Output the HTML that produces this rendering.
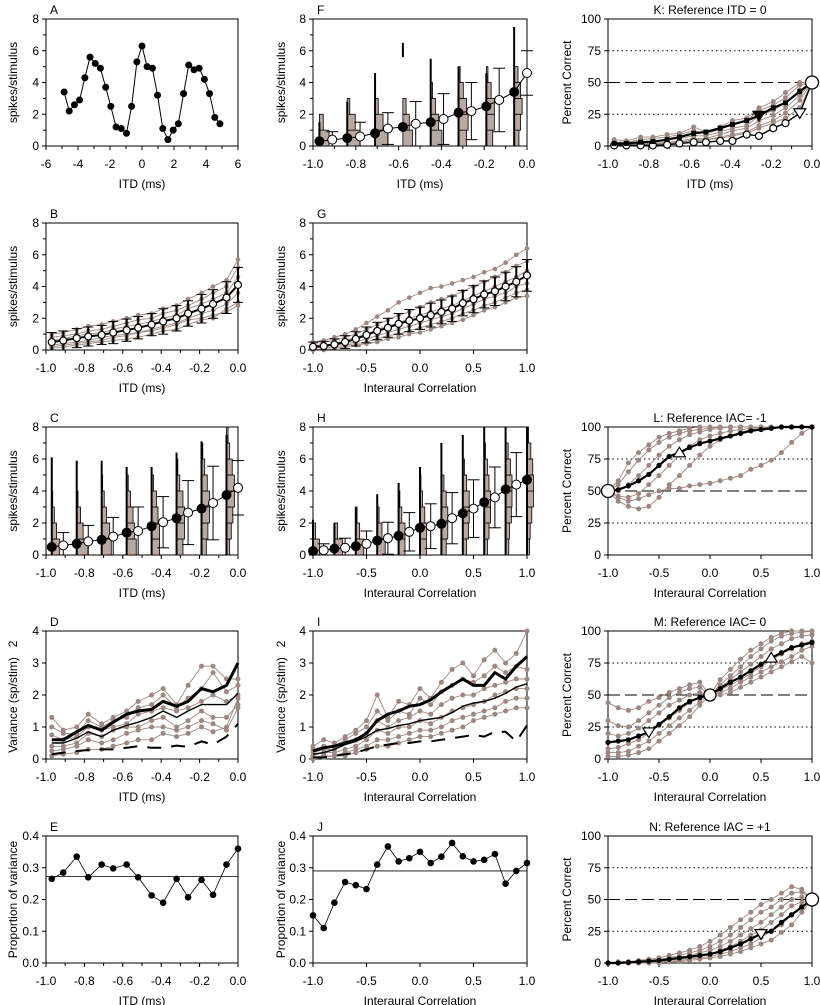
<!DOCTYPE html>
<html><head><meta charset="utf-8"><style>
html,body{margin:0;padding:0;background:#fff;}
svg{display:block;font-family:"Liberation Sans",Arial,sans-serif;}
</style></head><body>
<svg id="fig" width="820" height="1005" viewBox="0 0 820 1005" xmlns="http://www.w3.org/2000/svg"></svg>
<script>
// ---------- data ----------
const itd = [-0.97,-0.91,-0.84,-0.78,-0.71,-0.65,-0.58,-0.52,-0.45,-0.39,-0.32,-0.26,-0.19,-0.13,-0.06,0.0];
const iac = [-1,-0.9,-0.8,-0.7,-0.6,-0.5,-0.4,-0.3,-0.2,-0.1,0,0.1,0.2,0.3,0.4,0.5,0.6,0.7,0.8,0.9,1];
const aX = [-4.87,-4.55,-4.22,-3.9,-3.57,-3.25,-2.92,-2.6,-2.27,-1.95,-1.62,-1.3,-0.97,-0.65,-0.32,0,0.32,0.65,0.97,1.3,1.62,1.95,2.27,2.6,2.92,3.25,3.57,3.9,4.22,4.55,4.87];
const aY = [3.4,2.2,2.6,2.9,4.3,5.6,5.2,4.9,3.7,2.5,1.2,1.1,0.8,2.5,5.3,6.3,5.0,4.9,3.2,1.1,0.4,1.0,1.4,3.3,5.1,4.8,4.9,4.2,3.3,1.8,1.4];
const bMean = [0.5,0.6,0.75,0.85,0.95,1.1,1.25,1.4,1.6,1.8,2.0,2.3,2.6,2.9,3.3,4.1];
const bSd = [0.6,0.6,0.6,0.6,0.6,0.7,0.7,0.7,0.7,0.8,0.8,0.8,0.9,0.9,1.0,1.1];
const bGray = [
[1.0,1.1,1.3,1.5,1.6,1.8,2.0,2.2,2.3,2.6,2.8,3.2,3.6,4.0,4.4,5.7],
[0.8,0.9,1.0,1.2,1.3,1.5,1.7,1.9,2.0,2.3,2.5,2.8,3.2,3.6,4.0,5.2],
[0.3,0.4,0.5,0.6,0.8,0.9,1.0,1.1,1.3,1.5,1.7,2.0,2.3,2.5,2.9,3.6],
[0.1,0.2,0.3,0.4,0.5,0.6,0.7,0.8,1.0,1.2,1.3,1.6,1.9,2.0,2.6,3.0],
[0.6,0.7,0.9,1.0,1.1,1.3,1.5,1.6,1.8,2.0,2.2,2.6,2.9,3.2,3.6,4.6],
[0.2,0.3,0.4,0.5,0.6,0.8,0.9,1.1,1.2,1.4,1.6,1.9,2.0,2.2,2.4,2.8]];
const cMean = [0.5,0.6,0.7,0.85,0.95,1.15,1.4,1.5,1.8,2.05,2.3,2.65,2.9,3.25,3.75,4.2];
const cSd = [0.8,0.8,1.2,1.0,1.3,1.2,1.4,1.5,1.6,1.6,1.9,2.0,1.9,2.3,2.0,1.7];
const cSpike = [6.1,5.9,5.9,5.5,5.5,6.4,7.1,7.5];
const cSpikeLo = [0,0,0,0,0,0,0,0];
const cHist = [[2.5,1.5,0.8,0.3],[3.5,2,1.2,0.4],[3,2.5,1.5,0.8,0.3],[3,2.5,2,1.2,0.5],[2.5,2.5,2,1.5,0.6],[2,2.5,2.5,2,1,0.4],[1.5,2,2.5,2.5,1.8,1,0.4],[1,1.5,2,2.5,2.5,1.8,1,0.5]];
const fMean = [0.3,0.4,0.5,0.6,0.8,1.1,1.2,1.4,1.5,1.7,2.1,2.2,2.5,2.9,3.4,4.6];
const fSd = [0.5,0.5,0.8,0.9,1.0,1.0,1.2,1.4,1.3,1.6,1.8,1.8,2.0,2.0,2.5,1.4];
const fSpike = [1.5,2.8,4.6,6.5,5.5,5.0,4.6,7.5];
const fSpikeLo = [0,0,0,5.6,0,0,0,0];
const fHist = [[3,1.2],[4,2.5,0.8],[4,2.5,1],[3,2,1],[3.5,2.5,1.5,0.6],[2.5,3,2.5,1.5,0.5],[2,2.5,2.5,1.5,0.5],[1.5,2,2.5,2,1.2]];
const gMean = [0.2,0.25,0.35,0.5,0.7,0.95,1.2,1.4,1.65,1.85,2.0,2.2,2.4,2.6,2.95,3.2,3.5,3.7,4.0,4.3,4.7];
const gSd = [0.3,0.3,0.35,0.4,0.45,0.5,0.55,0.6,0.65,0.7,0.7,0.75,0.75,0.8,0.8,0.85,0.85,0.9,0.9,0.95,1.0];
const gGray = [
[0.5,0.6,0.8,1.0,1.3,1.7,2.1,2.5,3.0,3.3,3.6,3.9,4.0,4.2,4.4,4.6,4.9,5.1,5.5,6.0,6.4],
[0.4,0.5,0.6,0.8,1.0,1.3,1.6,1.9,2.2,2.4,2.7,3.0,3.2,3.4,3.7,4.0,4.3,4.6,4.9,5.3,5.6],
[0.3,0.3,0.4,0.6,0.8,1.0,1.3,1.5,1.7,2.0,2.2,2.4,2.6,2.8,3.1,3.4,3.7,4.0,4.3,4.6,5.0],
[0.1,0.2,0.3,0.4,0.5,0.7,0.9,1.1,1.3,1.5,1.7,1.9,2.1,2.3,2.6,2.9,3.2,3.4,3.6,4.0,4.2],
[0.0,0.1,0.2,0.3,0.4,0.5,0.7,0.9,1.0,1.2,1.4,1.6,1.8,2.0,2.3,2.5,2.8,3.0,3.3,3.6,3.8],
[0.0,0.0,0.1,0.2,0.3,0.4,0.5,0.7,0.8,1.0,1.1,1.3,1.5,1.7,1.9,2.2,2.5,2.7,3.0,3.3,3.4]];
const hMean = [0.25,0.3,0.4,0.45,0.55,0.7,0.9,1.05,1.2,1.45,1.7,1.8,1.95,2.3,2.6,2.9,3.3,3.6,4.1,4.4,4.7];
const hSd = [0.4,0.4,0.5,0.6,0.7,0.8,0.9,1.0,1.1,1.2,1.3,1.4,1.5,1.6,1.7,1.8,1.8,1.9,1.9,2.0,1.9];
const hSpike = [2.2,2.0,3.0,3.8,4.5,5.5,7.0,7.5,8,8,8];
const hSpikeLo = [0,0,0,0,0,0,0,0,0,0,0];
const hHist = [[2,0.8],[2.5,1],[2.5,1.2,0.4],[2.5,1.5,0.6],[2,2,1,0.4],[2,2,1.5,0.8,0.3],[1.5,2,2,1.5,0.8],[1.2,1.8,2,2,1.2,0.5],[1,1.5,2,2,1.5,1,0.4],[1,1.2,1.8,2,2,1.5,0.8],[0.8,1,1.5,2,2,1.8,1.2,0.5]];
const dThick = [0.6,0.6,0.85,1.05,0.9,1.15,1.4,1.5,1.55,1.8,1.65,1.8,2.2,2.1,2.3,3.0];
const dThin = [0.5,0.5,0.65,0.85,0.7,0.9,1.05,1.15,1.3,1.5,1.3,1.5,1.7,1.7,1.7,2.05];
const dDash = [0.15,0.2,0.25,0.28,0.3,0.3,0.35,0.4,0.35,0.35,0.42,0.38,0.55,0.45,0.7,1.1];
const dGray = [
[1.3,0.9,1.0,1.4,1.1,1.3,1.5,1.8,2.0,2.2,1.7,2.3,2.9,2.9,2.5,2.5],
[1.0,0.8,0.8,1.2,1.0,1.2,1.3,1.6,1.7,2.0,1.6,1.9,2.2,2.7,2.1,2.3],
[0.75,0.6,0.7,1.0,0.9,1.0,1.1,1.4,1.5,1.6,1.5,1.6,1.8,2.0,1.8,2.0],
[0.4,0.4,0.5,0.8,0.7,0.9,1.0,1.0,1.2,1.3,1.0,1.2,1.5,1.3,1.3,1.7],
[0.25,0.3,0.4,0.6,0.5,0.6,0.8,0.9,1.0,1.0,0.9,1.0,1.2,1.1,0.9,1.6],
[0.1,0.15,0.2,0.3,0.3,0.4,0.5,0.6,0.6,0.8,0.7,0.8,1.0,0.85,1.0,1.9]];
const iThick = [0.25,0.35,0.4,0.5,0.6,0.8,1.2,1.4,1.5,1.65,1.7,1.85,2.1,2.3,2.5,2.3,2.3,2.7,2.5,2.9,3.2];
const iThin = [0.15,0.2,0.3,0.45,0.55,0.7,0.9,0.95,1.05,1.1,1.2,1.25,1.3,1.45,1.65,1.75,1.8,1.9,2.05,2.25,2.35];
const iDash = [0.05,0.05,0.1,0.15,0.2,0.3,0.4,0.45,0.5,0.5,0.55,0.55,0.6,0.65,0.7,0.75,0.7,0.85,0.85,0.55,1.05];
const iGray = [
[0.4,0.6,0.5,0.7,0.9,1.2,2.0,1.3,1.8,1.7,2.2,1.9,2.4,2.8,3.0,2.6,3.1,3.4,3.0,3.3,4.0],
[0.3,0.4,0.4,0.6,0.8,1.0,1.5,1.2,1.5,1.4,1.9,1.7,2.1,2.3,2.5,2.4,2.6,2.9,2.7,2.9,2.8],
[0.2,0.3,0.3,0.5,0.6,0.8,1.2,1.0,1.2,1.3,1.5,1.4,1.7,1.9,2.0,2.0,2.2,2.3,2.4,2.5,2.5],
[0.1,0.2,0.2,0.3,0.4,0.6,0.9,0.8,1.0,1.0,1.2,1.1,1.3,1.5,1.6,1.7,1.8,2.0,2.1,2.2,2.2],
[0.05,0.1,0.1,0.2,0.3,0.4,0.6,0.6,0.7,0.8,0.9,0.9,1.0,1.2,1.3,1.4,1.5,1.6,1.8,1.9,1.9],
[0.0,0.05,0.1,0.1,0.2,0.3,0.4,0.4,0.5,0.6,0.7,0.7,0.8,0.9,1.0,1.2,1.3,1.4,1.5,1.6,1.6]];
const eY = [0.265,0.285,0.335,0.27,0.31,0.298,0.31,0.27,0.213,0.19,0.265,0.207,0.262,0.215,0.31,0.36];
const eRef = [0.272];
const jY = [0.15,0.11,0.19,0.255,0.245,0.233,0.31,0.367,0.32,0.33,0.35,0.315,0.335,0.378,0.336,0.32,0.325,0.343,0.25,0.29,0.315];
const jRef = [0.29];
const kMean = [2,2,3,3.5,5,7,10,11,14,17,20,24,30,34,43,50];
const kOpen = [0.5,0.5,0.5,0.5,1,2,3,3,4,4,9,8,14,18,26,50];
const kGray = [
[5,4,7,7,9,10,15,11,15,20,22,30,35,42,50,50],
[3,3,5,6,7,9,12,10,13,17,20,28,32,38,48,50],
[2,2,3,4,5,6,8,8,11,14,16,24,28,34,44,50],
[1,1,2,2,3,4,6,6,9,12,14,20,24,30,40,50],
[0,1,1,1,2,3,4,5,7,9,11,16,20,26,36,50],
[1,1,1,2,2,3,5,5,6,8,10,14,18,22,30,50]];
const lMean = [50,51,54,58,63,70,77,80,84,87,89,91,93,95,97,98,99,100,100,100,100];
const lGray = [
[50,58,72,80,86,92,95,97,99,100,100,100,100,100,100,100,100,100,100,100,100],
[50,55,65,74,82,88,92,95,97,98,99,100,100,100,100,100,100,100,100,100,100],
[50,50,55,62,70,78,85,90,94,96,98,99,100,100,100,100,100,100,100,100,100],
[50,46,45,48,55,62,70,78,85,90,93,95,97,98,99,100,100,100,100,100,100],
[50,42,38,36,38,45,55,62,70,78,85,90,93,96,98,99,100,100,100,100,100],
[50,45,42,44,47,50,52,52,54,55,56,58,60,62,67,70,74,80,88,95,100]];
const mMean = [13,14,15,18,21,27,33,40,45,48,50,55,60,64,69,74,79,83,87,89,91];
const mGray = [
[44,40,38,40,45,48,52,55,58,60,50,62,70,78,85,90,95,98,100,100,100],
[30,26,25,30,36,42,48,52,55,56,50,58,65,72,80,86,92,96,98,99,100],
[20,18,20,24,30,36,42,46,50,52,50,56,62,68,74,80,86,90,94,96,97],
[8,9,12,15,20,26,32,38,44,48,50,54,58,62,67,72,77,82,86,90,92],
[5,5,6,10,14,20,26,32,38,45,50,52,55,60,64,68,72,76,80,85,88],
[2,2,3,5,8,14,20,26,33,42,50,50,52,56,60,64,68,72,76,80,75]];
const nMean = [0,0,0.5,1,1.5,2,3,4,5,6,7,9,12,15,19,23,25,32,38,44,50];
const nGray = [
[0,1,1,2,3,4,6,8,10,13,17,22,28,34,40,46,50,55,60,58,50],
[0,0,1,1,2,3,4,6,8,10,13,17,22,28,34,40,44,50,55,56,50],
[0,0,0,1,1,2,3,4,6,8,10,13,17,22,27,32,38,44,50,52,50],
[0,0,0,0,1,1,2,3,4,5,7,10,13,17,22,26,32,38,45,48,50],
[0,0,0,0,0,1,1,2,3,4,5,7,9,12,15,20,25,30,38,45,50],
[0,0,0,0,0,0,1,1,2,3,4,5,7,9,12,15,18,24,30,40,50]];
const itdTicks = [-1,-0.8,-0.6,-0.4,-0.2,0];
const itdLabels = ["-1.0","-0.8","-0.6","-0.4","-0.2","0.0"];
const iacTicks = [-1,-0.5,0,0.5,1];
const iacLabels = ["-1.0","-0.5","0.0","0.5","1.0"];
const spkTicks = [0,2,4,6,8];
const varTicks = [0,1,2,3,4];
const propTicks = [0,0.1,0.2,0.3,0.4];
const propLabels = ["0.0","0.1","0.2","0.3","0.4"];
const pcTicks = [0,25,50,75,100];

// ---------- drawing ----------
const NS = 'http://www.w3.org/2000/svg';
const svg = document.getElementById('fig');
const GRAY = '#9c8882';
function add(parent, tag, attrs, name) {
  const el = document.createElementNS(NS, tag);
  for (const k in attrs) el.setAttribute(k, attrs[k]);
  
  
  parent.appendChild(el);
  return el;
}
function txt(parent, x, y, s, name, opts) {
  const o = Object.assign({size: 12, anchor: 'middle'}, opts || {});
  const a = {x: x, y: y, 'font-size': o.size, 'text-anchor': o.anchor, fill: '#000'};
  if (o.rot) a.transform = 'rotate(-90 ' + x + ' ' + y + ')';
  const t = add(parent, 'text', a, name);
  t.textContent = s;
  return t;
}
const COLS = [[46, 238], [313, 527], [608, 812]];
const ROWS = [[19, 146], [223, 350], [427, 555], [631, 759], [836, 963]];
function panel(id, c, r, xd, yd) {
  const g = add(svg, 'g', {}, 'panel-' + id);
  const x0 = COLS[c][0], x1 = COLS[c][1], y0 = ROWS[r][0], y1 = ROWS[r][1];
  const sx = v => x0 + (v - xd[0]) / (xd[1] - xd[0]) * (x1 - x0);
  const sy = v => y1 - (v - yd[0]) / (yd[1] - yd[0]) * (y1 - y0);
  return {g, sx, sy, x0, x1, y0, y1, c};
}
function axes(p, xt, xl, yt, yl, xtitle, ytitle, letter, title, xminor, yminor, ytitleY) {
  add(p.g, 'rect', {x: p.x0, y: p.y0, width: p.x1 - p.x0, height: p.y1 - p.y0, fill: 'none', stroke: '#000', 'stroke-width': 1}, 'plot-frame');
  (xminor || []).forEach(v => add(p.g, 'line', {x1: p.sx(v), x2: p.sx(v), y1: p.y1, y2: p.y1 + 3, stroke: '#000'}, 'x-minor-tick'));
  (yminor || []).forEach(v => add(p.g, 'line', {x1: p.x0 - 3, x2: p.x0, y1: p.sy(v), y2: p.sy(v), stroke: '#000'}, 'y-minor-tick'));
  xt.forEach((v, i) => {
    add(p.g, 'line', {x1: p.sx(v), x2: p.sx(v), y1: p.y1, y2: p.y1 + 4, stroke: '#000'}, 'x-tick');
    txt(p.g, p.sx(v), p.y1 + 22, xl[i], 'x-tick-label');
  });
  yt.forEach((v, i) => {
    add(p.g, 'line', {x1: p.x0 - 4, x2: p.x0, y1: p.sy(v), y2: p.sy(v), stroke: '#000'}, 'y-tick');
    txt(p.g, p.x0 - 7, p.sy(v) + 4, yl[i], 'y-tick-label', {anchor: 'end'});
  });
  txt(p.g, (p.x0 + p.x1) / 2, p.y1 + 42, xtitle, 'x-axis-title');
  const yx = p.c === 0 ? 17 : (p.c === 1 ? 285 : 571);
  txt(p.g, yx, ytitleY || (p.y0 + p.y1) / 2, ytitle, 'y-axis-title', {rot: true});
  if (letter) txt(p.g, p.x0 + 4, p.y0 - 5, letter, 'panel-letter', {anchor: 'start'});
  if (title) txt(p.g, (p.x0 + p.x1) / 2, p.y0 - 5, title, 'panel-title');
}
function line(p, xs, ys, name, st) {
  const pts = ys.map((v, i) => p.sx(xs[i]).toFixed(1) + ',' + p.sy(v).toFixed(1)).join(' ');
  const a = Object.assign({points: pts, fill: 'none', stroke: '#000', 'stroke-width': 1, 'stroke-linejoin': 'round'}, st || {});
  return add(p.g, 'polyline', a, name);
}
function dots(p, xs, ys, name, r, fill, stroke) {
  ys.forEach((v, i) => add(p.g, 'circle', {cx: p.sx(xs[i]), cy: p.sy(v), r: r, fill: fill, stroke: stroke || 'none', 'stroke-width': 1.2}, name));
}
function grayLines(p, xs, sets, r) {
  sets.forEach(s => { line(p, xs, s, 'unit-line', {stroke: GRAY, 'stroke-width': 0.9}); dots(p, xs, s, 'unit-point', r, GRAY); });
}
function errBars(p, xs, m, sd, w) {
  m.forEach((v, i) => {
    const x = p.sx(xs[i]), lo = p.sy(Math.max(0, v - sd[i])), hi = p.sy(v + sd[i]);
    add(p.g, 'line', {x1: x, x2: x, y1: lo, y2: hi, stroke: '#000', 'stroke-width': w}, 'error-bar');
    add(p.g, 'line', {x1: x - 5, x2: x + 5, y1: hi, y2: hi, stroke: '#000', 'stroke-width': 1}, 'error-cap');
    add(p.g, 'line', {x1: x - 5, x2: x + 5, y1: lo, y2: lo, stroke: '#000', 'stroke-width': 1}, 'error-cap');
  });
}
function histPanel(p, xs, mean, sd, spikes, spikesLo, hists) {
  hists.forEach((h, k) => {
    const i = 2 * k, x = p.sx(xs[i]);
    h.forEach((c, b) => add(p.g, 'rect', {x: x, y: p.sy(b + 1), width: c * 3.2, height: p.sy(b) - p.sy(b + 1), fill: '#b8a8a2', stroke: '#000', 'stroke-width': 0.8}, 'histogram-bin'));
    add(p.g, 'line', {x1: x, x2: x, y1: p.sy(spikesLo[k]), y2: p.sy(spikes[k]), stroke: '#000', 'stroke-width': 2}, 'histogram-spike');
  });
  mean.forEach((v, i) => { if (i % 2 === 1) {
    const x = p.sx(xs[i]), lo = p.sy(Math.max(0, v - sd[i])), hi = p.sy(v + sd[i]);
    add(p.g, 'line', {x1: x, x2: x, y1: lo, y2: hi, stroke: '#000'}, 'error-bar');
    add(p.g, 'line', {x1: x - 6, x2: x + 6, y1: hi, y2: hi, stroke: '#000'}, 'error-cap');
    add(p.g, 'line', {x1: x - 6, x2: x + 6, y1: lo, y2: lo, stroke: '#000'}, 'error-cap');
  }});
  line(p, xs, mean, 'mean-line');
  mean.forEach((v, i) => add(p.g, 'circle', {cx: p.sx(xs[i]), cy: p.sy(v), r: 4.5, fill: i % 2 ? '#fff' : '#000', stroke: '#000'}, 'mean-point'));
}
function tri(p, x, y, down, fill, name) {
  const cx = p.sx(x), cy = p.sy(y), s = 6;
  const pts = down ? [cx - s, cy - s * 0.7, cx + s, cy - s * 0.7, cx, cy + s * 0.9] : [cx - s, cy + s * 0.7, cx + s, cy + s * 0.7, cx, cy - s * 0.9];
  add(p.g, 'polygon', {points: pts.join(' '), fill: fill, stroke: '#000', 'stroke-width': 1.2}, name);
}
function refLines(p) {
  [25, 75].forEach(v => add(p.g, 'line', {x1: p.x0, x2: p.x1, y1: p.sy(v), y2: p.sy(v), stroke: '#000', 'stroke-dasharray': '1.5,3'}, 'chance-dotted-line'));
  add(p.g, 'line', {x1: p.x0, x2: p.x1, y1: p.sy(50), y2: p.sy(50), stroke: '#000', 'stroke-dasharray': '12,5'}, 'fifty-percent-dashed-line');
}
const itdD = [-1, 0], iacD = [-1, 1];
const spkL = spkTicks.map(String), varL = varTicks.map(String), pcL = pcTicks.map(String);

// A
let p = panel('a', 0, 0, [-6, 6], [0, 8]);
axes(p, [-6,-4,-2,0,2,4,6], ["-6","-4","-2","0","2","4","6"], spkTicks, spkL, 'ITD (ms)', 'spikes/stimulus', 'A', null, [-5,-3,-1,1,3,5], [1,3,5,7]);
line(p, aX, aY, 'rate-curve');
dots(p, aX, aY, 'rate-point', 3.5, '#000');

// B
p = panel('b', 0, 1, itdD, [0, 8]);
axes(p, itdTicks, itdLabels, spkTicks, spkL, 'ITD (ms)', 'spikes/stimulus', 'B', null, [-0.9,-0.7,-0.5,-0.3,-0.1], [1,3,5,7]);
grayLines(p, itd, bGray, 2.3);
errBars(p, itd, bMean, bSd, 2);
line(p, itd, bMean, 'mean-line', {'stroke-width': 2});
dots(p, itd, bMean, 'mean-point', 3.5, '#fff', '#000');

// C
p = panel('c', 0, 2, itdD, [0, 8]);
axes(p, itdTicks, itdLabels, spkTicks, spkL, 'ITD (ms)', 'spikes/stimulus', 'C', null, [-0.9,-0.7,-0.5,-0.3,-0.1], [1,3,5,7]);
histPanel(p, itd, cMean, cSd, cSpike, cSpikeLo, cHist);

// D
p = panel('d', 0, 3, itdD, [0, 4]);
axes(p, itdTicks, itdLabels, varTicks, varL, 'ITD (ms)', 'Variance (sp/stim)', 'D', null, [-0.9,-0.7,-0.5,-0.3,-0.1], [], 705);
txt(p.g, 17, 644, '2', 'y-axis-superscript', {rot: true});
grayLines(p, itd, dGray, 2.5);
line(p, itd, dDash, 'model-variance-dashed', {'stroke-width': 2, 'stroke-dasharray': '14,10'});
line(p, itd, dThin, 'mean-variance-thin', {'stroke-width': 1.4});
line(p, itd, dThick, 'total-variance-thick', {'stroke-width': 3});

// E
p = panel('e', 0, 4, itdD, [0, 0.4]);
axes(p, itdTicks, itdLabels, propTicks, propLabels, 'ITD (ms)', 'Proportion of variance', 'E', null, [-0.9,-0.7,-0.5,-0.3,-0.1], []);
add(p.g, 'line', {x1: p.x0, x2: p.x1, y1: p.sy(eRef[0]), y2: p.sy(eRef[0]), stroke: '#000', 'stroke-width': 0.8}, 'average-line');
line(p, itd, eY, 'proportion-line', {'stroke-width': 0.8});
dots(p, itd, eY, 'proportion-point', 3.3, '#000');

// F
p = panel('f', 1, 0, itdD, [0, 8]);
axes(p, itdTicks, itdLabels, spkTicks, spkL, 'ITD (ms)', 'spikes/stimulus', 'F', null, [-0.9,-0.7,-0.5,-0.3,-0.1], [1,3,5,7]);
histPanel(p, itd, fMean, fSd, fSpike, fSpikeLo, fHist);

// G
p = panel('g', 1, 1, iacD, [0, 8]);
axes(p, iacTicks, iacLabels, spkTicks, spkL, 'Interaural Correlation', 'spikes/stimulus', 'G', null, [], [1,3,5,7]);
grayLines(p, iac, gGray, 2.3);
errBars(p, iac, gMean, gSd, 2);
line(p, iac, gMean, 'mean-line', {'stroke-width': 2});
dots(p, iac, gMean, 'mean-point', 3.5, '#fff', '#000');

// H
p = panel('h', 1, 2, iacD, [0, 8]);
axes(p, iacTicks, iacLabels, spkTicks, spkL, 'Interaural Correlation', 'spikes/stimulus', 'H', null, [], [1,3,5,7]);
histPanel(p, iac, hMean, hSd, hSpike, hSpikeLo, hHist);

// I
p = panel('i', 1, 3, iacD, [0, 4]);
axes(p, iacTicks, iacLabels, varTicks, varL, 'Interaural Correlation', 'Variance (sp/stim)', 'I', null, [], [], 705);
txt(p.g, 285, 644, '2', 'y-axis-superscript', {rot: true});
grayLines(p, iac, iGray, 2.5);
line(p, iac, iDash, 'model-variance-dashed', {'stroke-width': 2, 'stroke-dasharray': '14,10'});
line(p, iac, iThin, 'mean-variance-thin', {'stroke-width': 1.4});
line(p, iac, iThick, 'total-variance-thick', {'stroke-width': 3});

// J
p = panel('j', 1, 4, iacD, [0, 0.4]);
axes(p, iacTicks, iacLabels, propTicks, propLabels, 'Interaural Correlation', 'Proportion of variance', 'J', null, [], []);
add(p.g, 'line', {x1: p.x0, x2: p.x1, y1: p.sy(jRef[0]), y2: p.sy(jRef[0]), stroke: '#000', 'stroke-width': 0.8}, 'average-line');
line(p, iac, jY, 'proportion-line', {'stroke-width': 0.8});
dots(p, iac, jY, 'proportion-point', 3.3, '#000');

// K
p = panel('k', 2, 0, itdD, [0, 100]);
axes(p, itdTicks, itdLabels, pcTicks, pcL, 'ITD (ms)', 'Percent Correct', null, 'K: Reference ITD = 0', [-0.9,-0.7,-0.5,-0.3,-0.1], []);
refLines(p);
grayLines(p, itd, kGray, 2.5);
line(p, itd, kOpen, 'ideal-observer-line', {'stroke-width': 1.4});
dots(p, itd.slice(0, 14), kOpen.slice(0, 14), 'ideal-observer-point', 3.5, '#fff', '#000');
tri(p, itd[14], kOpen[14], true, '#fff', 'ideal-threshold-marker');
line(p, itd, kMean, 'mean-line', {'stroke-width': 2.2});
kMean.forEach((v, i) => add(p.g, 'rect', {x: p.sx(itd[i]) - 2.5, y: p.sy(v) - 2.5, width: 5, height: 5, fill: '#000'}, 'mean-point'));
tri(p, itd[11], kMean[11], true, '#000', 'threshold-marker');
add(p.g, 'circle', {cx: p.sx(0), cy: p.sy(50), r: 6.5, fill: '#fff', stroke: '#000', 'stroke-width': 1.3}, 'reference-point');

// L
p = panel('l', 2, 2, iacD, [0, 100]);
axes(p, iacTicks, iacLabels, pcTicks, pcL, 'Interaural Correlation', 'Percent Correct', null, 'L: Reference IAC= -1', [], []);
refLines(p);
grayLines(p, iac, lGray, 2.5);
line(p, iac, lMean, 'mean-line', {'stroke-width': 2.2});
dots(p, iac, lMean, 'mean-point', 2.6, '#000');
tri(p, iac[7], lMean[7], false, '#fff', 'threshold-marker');
add(p.g, 'circle', {cx: p.sx(-1), cy: p.sy(50), r: 6.5, fill: '#fff', stroke: '#000', 'stroke-width': 1.3}, 'reference-point');

// M
p = panel('m', 2, 3, iacD, [0, 100]);
axes(p, iacTicks, iacLabels, pcTicks, pcL, 'Interaural Correlation', 'Percent Correct', null, 'M: Reference IAC= 0', [], []);
refLines(p);
grayLines(p, iac, mGray, 2.5);
line(p, iac, mMean, 'mean-line', {'stroke-width': 2.2});
dots(p, iac, mMean, 'mean-point', 2.6, '#000');
tri(p, iac[4], mMean[4], true, '#fff', 'lower-threshold-marker');
tri(p, iac[16], mMean[16], false, '#fff', 'upper-threshold-marker');
add(p.g, 'circle', {cx: p.sx(0), cy: p.sy(50), r: 6, fill: '#fff', stroke: '#000', 'stroke-width': 1.3}, 'reference-point');

// N
p = panel('n', 2, 4, iacD, [0, 100]);
axes(p, iacTicks, iacLabels, pcTicks, pcL, 'Interaural Correlation', 'Percent Correct', null, 'N: Reference IAC = +1', [], []);
refLines(p);
grayLines(p, iac, nGray, 2.5);
line(p, iac, nMean, 'mean-line', {'stroke-width': 2.2});
dots(p, iac, nMean, 'mean-point', 2.6, '#000');
tri(p, iac[15], nMean[15], true, '#fff', 'threshold-marker');
add(p.g, 'circle', {cx: p.sx(1), cy: p.sy(50), r: 6.5, fill: '#fff', stroke: '#000', 'stroke-width': 1.3}, 'reference-point');
</script>
</body></html>
